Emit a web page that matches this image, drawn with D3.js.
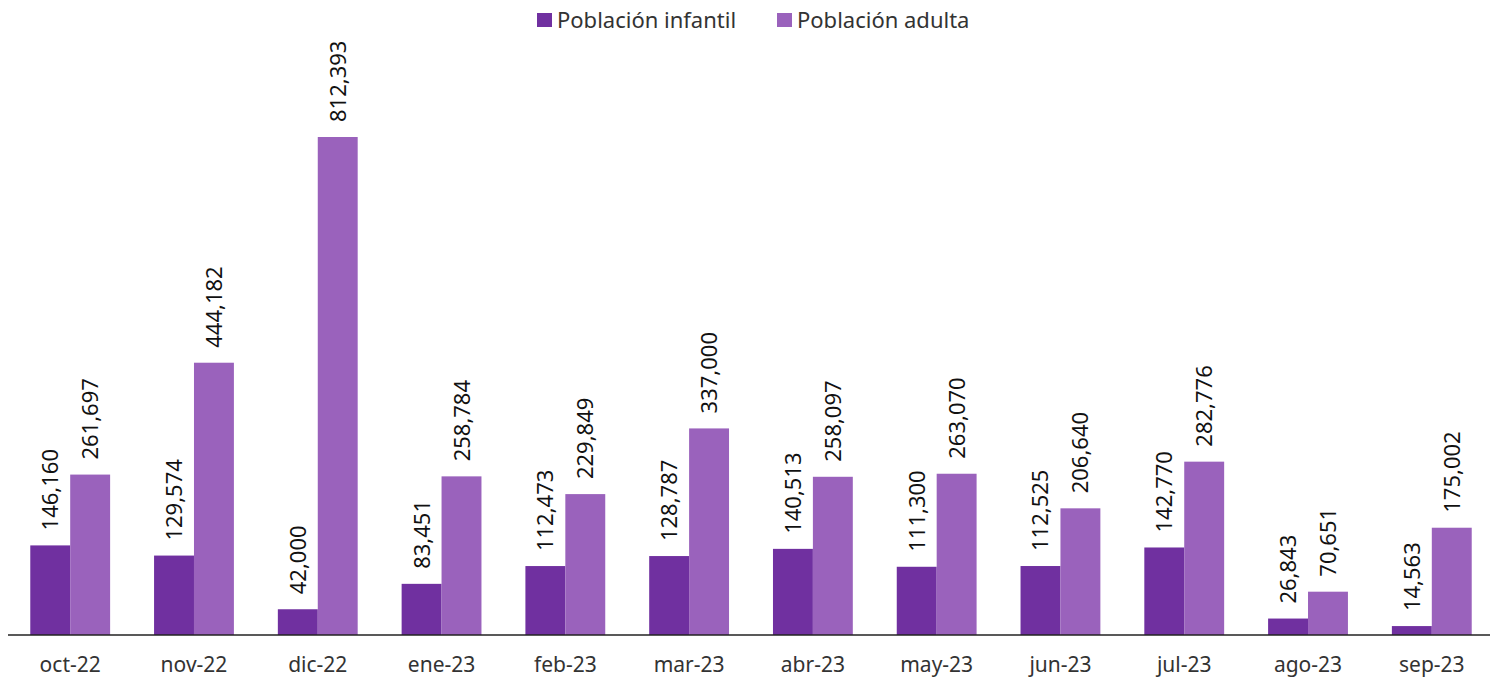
<!DOCTYPE html>
<html><head><meta charset="utf-8">
<script src="https://cdn.jsdelivr.net/npm/d3@7"></script>
<style>body{margin:0;background:#fff;}svg{display:block;font-family:"Noto Sans",sans-serif;}</style>
</head><body>
<svg id="c" width="1497" height="680"></svg>
<script>
const categories = ["oct-22","nov-22","dic-22","ene-23","feb-23","mar-23","abr-23","may-23","jun-23","jul-23","ago-23","sep-23"];
const infantil = [146160,129574,42000,83451,112473,128787,140513,111300,112525,142770,26843,14563];
const adulta = [261697,444182,812393,258784,229849,337000,258097,263070,206640,282776,70651,175002];
const seriesNames = ["Población infantil","Población adulta"];
const colors = ["#7030a0","#9a62bc"];

const svg = d3.select("#c");
const x0 = d3.scaleBand().domain(categories).range([8,1494]).paddingInner(0.355).paddingOuter(0.18);
const x1 = d3.scaleBand().domain([0,1]).range([0,x0.bandwidth()]);
const y = d3.scaleLinear().domain([0,812393]).range([635,137]);
const fmt = d3.format(",");
const data = categories.map((c,i)=>({c, v:[infantil[i],adulta[i]]}));

const g = svg.append("g");
const grp = g.selectAll("g.grp").data(data).join("g").attr("transform",d=>`translate(${x0(d.c)},0)`);
grp.selectAll("rect").data(d=>d.v.map((v,k)=>({v,k}))).join("rect")
  .attr("x",d=>x1(d.k)).attr("width",x1.bandwidth())
  .attr("y",d=>y(d.v)).attr("height",d=>y(0)-y(d.v))
  .attr("fill",d=>colors[d.k]);
grp.selectAll("text").data(d=>d.v.map((v,k)=>({v,k}))).join("text")
  .attr("transform",d=>`translate(${x1(d.k)+x1.bandwidth()/2+8},${y(d.v)-15}) rotate(-90)`)
  .attr("text-anchor","start").attr("font-size",22).attr("fill","#111")
  .text(d=>fmt(d.v));

const ax = svg.append("g").attr("transform","translate(0,635)").call(d3.axisBottom(x0).tickSize(0).tickPadding(22));
ax.select(".domain").attr("stroke","#222").attr("stroke-width",1.3).attr("d","M8,0H1490");
ax.selectAll("text").attr("font-size",21).attr("fill","#333").attr("font-family","'Noto Sans',sans-serif");

const leg = svg.append("g");
const lx = [537,777];
seriesNames.forEach((n,i)=>{
  leg.append("rect").attr("x",lx[i]).attr("y",13).attr("width",15).attr("height",14).attr("fill",colors[i]);
  leg.append("text").attr("x",lx[i]+20).attr("y",28).attr("font-size",22).attr("fill","#333").text(n);
});
</script>
</body></html>
